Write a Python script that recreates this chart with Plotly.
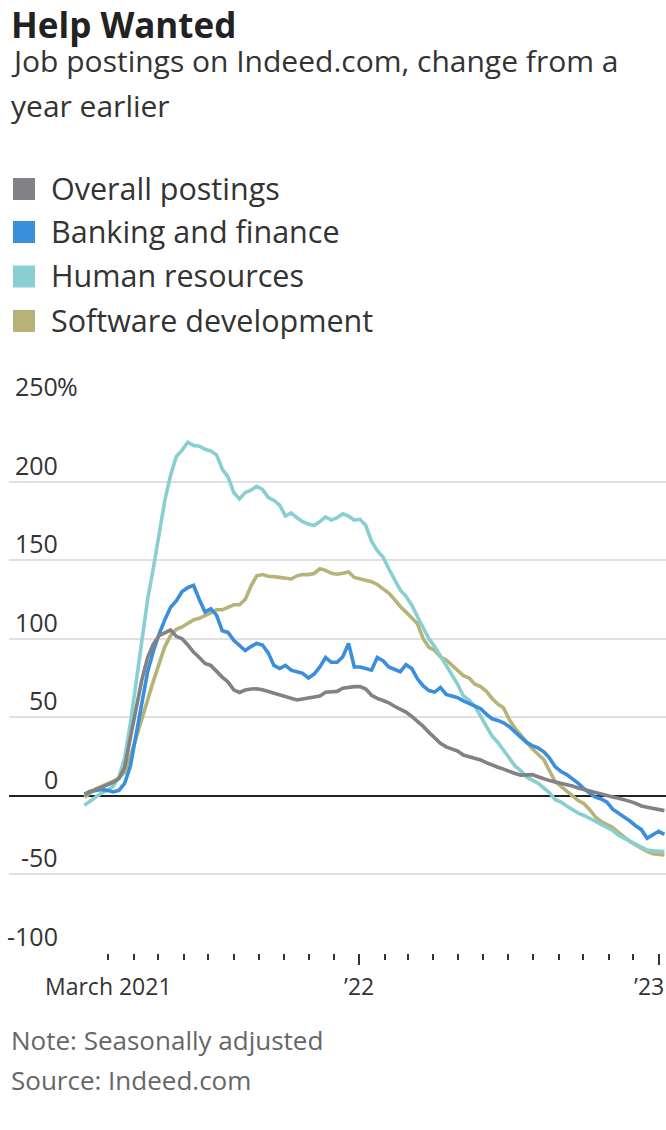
import plotly.graph_objects as go
import pandas as pd

# ---------------- data (weekly) ----------------
dates = pd.date_range("2021-01-31", periods=102, freq="7D")

overall = [1, 2.5, 3.8, 5.5, 7.2, 8.5, 11, 18, 37, 57,
           74, 88, 96.5, 102, 104, 105.5, 101.5, 100, 96, 91.5,
           88, 84.3, 83, 79, 75.6, 72.5, 67.5, 65.8, 67.3, 68,
           68.2, 67.5, 66.5, 65.4, 64.5, 63.5, 62.3, 61, 61.7, 62.2,
           62.6, 63.5, 66, 66, 66.5, 68.5, 69.2, 69.5, 69.5, 68,
           64, 62, 60.7, 59.2, 57, 55, 53.3, 50.5, 47.5, 44.2,
           40.4, 36.7, 33.5, 31.2, 29.7, 28.5, 26, 25, 23.8, 22.8,
           21.2, 19.4, 18.2, 17, 15.4, 14.2, 13.2, 13.6, 13.5, 12.2,
           10.8, 9.7, 8.8, 8, 7.1, 6.3, 5, 4, 3.3, 2.3,
           0.8, -0.2, -0.8, -1.5, -2.4, -3.5, -4.8, -6.4, -7.2, -8,
           -9, -9.4]

banking = [1, 3, 3.5, 4, 3.5, 2.5, 3.5, 8, 19, 38,
           60, 79, 92, 103, 112, 120, 124, 130, 132.5, 134,
           125, 117, 119, 115, 105, 104, 99, 96, 92.5, 95,
           97, 96, 91, 83, 81, 83, 80, 79, 78, 75,
           77.5, 82, 88, 85, 85, 88.5, 97, 82, 82, 81,
           80, 88, 86, 82, 80.5, 79, 83.5, 81, 74.5, 70,
           67, 66, 69, 64.5, 63.5, 62.5, 60.5, 59, 57.5, 55.5,
           52, 49, 48, 46.5, 44, 40.5, 37.5, 34, 32, 30.5,
           28, 24, 18.5, 15.5, 13.5, 11, 8, 4.5, 1.5, -0.8,
           -2, -4, -8.5, -11, -13, -16, -19, -21.5, -27, -25,
           -22.5, -24.5]

human_resources = [-6, -3.5, -0.5, 2, 3.5, 6, 12, 24, 46, 72,
                   99, 125, 145, 168, 188, 204, 216, 220, 225, 223,
                   222.5, 220.5, 219.5, 217, 208, 203, 193, 189, 193, 194.5,
                   197, 195, 190, 188, 185, 178, 180, 177, 174.5, 173,
                   172, 174.5, 177.5, 175.5, 177, 179.5, 178, 175.5, 176, 172,
                   162, 156, 152, 144.5, 138, 131, 127, 121.5, 114, 107,
                   100, 95, 89, 83, 77, 71, 63.5, 61, 57, 51,
                   44, 38, 34, 29, 24, 19, 16, 12, 10, 8,
                   5, 2, -2.5, -4, -6.5, -9, -11, -12.5, -14.5, -16.5,
                   -18, -20, -22, -25, -27, -29, -31, -33, -34.5, -35,
                   -35, -35.5]

software = [-1, 2, 4.5, 6, 7.5, 9.3, 11.3, 15, 25, 37,
            50, 61, 73, 84, 95, 102, 106, 107.5, 110, 112,
            113, 114.5, 116.5, 118.4, 118.4, 120, 121.6, 121.6, 125, 133.5,
            140, 140.8, 139.7, 139.5, 139, 138, 138, 140, 140.8, 140.8,
            141.5, 144.5, 143.5, 141.6, 141, 141.6, 142.5, 139, 138, 137.2,
            136.3, 134.5, 132, 129, 125, 120.5, 117, 113.5, 109.5, 100,
            94.5, 92.5, 88.5, 86.5, 83, 79.5, 76.5, 75, 71, 69.5,
            66.5, 62, 58.4, 56, 48.5, 43, 38.5, 34, 30, 26.5,
            23, 16, 9, 6, 3.3, 0, -3, -5, -8.8, -13.5,
            -16.3, -18.3, -20.2, -23.3, -26.2, -29, -31.2, -33.4, -35.4, -36.8,
            -37.3, -37.6]

series_names = ["Overall postings", "Banking and finance",
                "Human resources", "Software development"]
series_values = [overall, banking, human_resources, software]
series_colors = ["#818286", "#3a8edc", "#89cfd1", "#b7b378"]

y_tick_vals = [-100, -50, 0, 50, 100, 150, 200, 250]
y_tick_text = ["-100", "-50", "0", "50", "100", "150", "200", "250"]
y_tick_suffix = ["", "", "", "", "", "", "", "%"]

x_label_vals = ["2021-03-01", "2022-01-01", "2023-01-10"]
x_label_text = ["March 2021", "\u201922", "\u201923"]
x_label_anchor = ["center", "center", "right"]
x_major_ticks = ["2022-01-01", "2023-01-01"]
x_minor_ticks = [d.strftime("%Y-%m-%d") for d in pd.date_range("2021-03-01", "2022-12-01", freq="MS")
                 if d.strftime("%Y-%m-%d") not in x_major_ticks]

title_text = "Help Wanted"
subtitle_lines = ["Job postings on Indeed.com, change from a", "year earlier"]
note_lines = ["Note: Seasonally adjusted", "Source: Indeed.com"]

# ---------------- layout geometry (pixels) ----------------
W, H = 666, 1130
PL, PR, PT, PB = 9, 666, 403, 953
FONT = "Open Sans"


def px(xp):
    return (xp - PL) / (PR - PL)


def py(yp):
    return (PB - yp) / (PB - PT)


fig = go.Figure()

# draw in reverse so overall is on top
for name, vals, col in reversed(list(zip(series_names, series_values, series_colors))):
    fig.add_trace(go.Scatter(x=dates[:len(vals)], y=vals, mode="lines", name=name,
                             line=dict(color=col, width=3.6), showlegend=False,
                             hoverinfo="skip"))

annotations = []
shapes = []

# title & subtitle
annotations.append(dict(text="<b>" + title_text + "</b>", x=px(9), y=py(24.5), xref="paper", yref="paper",
                        xanchor="left", yanchor="middle", showarrow=False,
                        font=dict(family=FONT, size=35, color="#222222")))
for i, line in enumerate(subtitle_lines):
    annotations.append(dict(text=line, x=px(9), y=py(60 + 45 * i), xref="paper", yref="paper",
                            xanchor="left", yanchor="middle", showarrow=False,
                            font=dict(family=FONT, size=30, color="#333333")))

# legend
legend_centers = [189, 232, 276.5, 321]
for name, col, cy in zip(series_names, series_colors, legend_centers):
    shapes.append(dict(type="rect", xref="paper", yref="paper",
                       x0=px(13), x1=px(35), y0=py(cy + 11), y1=py(cy - 11),
                       fillcolor=col, line=dict(width=0)))
    annotations.append(dict(text=name, x=px(49), y=py(cy - 1), xref="paper", yref="paper",
                            xanchor="left", yanchor="middle", showarrow=False,
                            font=dict(family=FONT, size=30.5, color="#333333")))

# y tick labels (above gridlines)
for v, t, s in zip(y_tick_vals, y_tick_text, y_tick_suffix):
    annotations.append(dict(text=t, x=px(60), y=v, xref="paper", yref="y",
                            xanchor="right", yanchor="middle", yshift=17, showarrow=False,
                            font=dict(family=FONT, size=25, color="#333333")))
    if s:
        annotations.append(dict(text=s, x=px(55), y=v, xref="paper", yref="y",
                                xanchor="left", yanchor="middle", yshift=17, showarrow=False,
                                font=dict(family=FONT, size=25, color="#333333")))

# x labels
for v, t, a in zip(x_label_vals, x_label_text, x_label_anchor):
    annotations.append(dict(text=t, x=v, y=py(986), xref="x", yref="paper",
                            xanchor=a, yanchor="middle", showarrow=False,
                            font=dict(family=FONT, size=23, color="#333333")))

# notes
for i, line in enumerate(note_lines):
    annotations.append(dict(text=line, x=px(9), y=py(1040 + 40 * i), xref="paper", yref="paper",
                            xanchor="left", yanchor="middle", showarrow=False,
                            font=dict(family=FONT, size=26, color="#666666")))

fig.update_layout(
    width=W, height=H,
    margin=dict(l=PL, r=W - PR, t=PT, b=H - PB, pad=0),
    paper_bgcolor="white", plot_bgcolor="white",
    showlegend=False,
    annotations=annotations, shapes=shapes,
    font=dict(family=FONT),
)

fig.update_xaxes(
    type="date",
    range=["2020-10-31", "2023-01-10"],
    showgrid=False, zeroline=False, showline=False,
    tickmode="array", tickvals=x_major_ticks, showticklabels=False,
    ticks="outside", ticklen=11, tickwidth=1.6, tickcolor="#333333",
    minor=dict(tickmode="array", tickvals=x_minor_ticks, ticks="outside",
               ticklen=6, tickwidth=1.6, tickcolor="#333333", showgrid=False),
    fixedrange=True,
)

fig.update_yaxes(
    range=[-100, 250],
    tickmode="array", tickvals=y_tick_vals, showticklabels=False,
    showgrid=True, gridcolor="#e0e0e0", gridwidth=2,
    zeroline=True, zerolinecolor="#222222", zerolinewidth=2,
    showline=False, ticks="",
    fixedrange=True,
)

fig.write_html("out.html", config={"displayModeBar": False},
               post_script="document.body.style.margin='0';document.body.style.overflow='hidden';")
